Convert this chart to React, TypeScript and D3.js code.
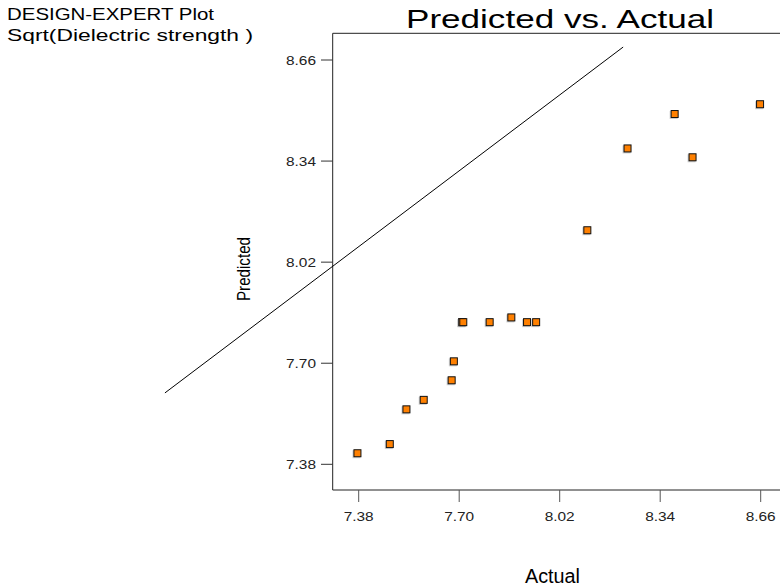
import React from "react";
import * as d3 from "d3";

// Actual vs. predicted values of Sqrt(Dielectric strength)
const actual = [7.376, 7.479, 7.532, 7.587, 7.676, 7.683, 7.709, 7.713, 7.797, 7.866, 7.916, 7.945, 8.108, 8.236, 8.386, 8.443, 8.658];
const predicted = [7.415, 7.444, 7.554, 7.584, 7.646, 7.706, 7.830, 7.830, 7.830, 7.845, 7.830, 7.830, 8.121, 8.380, 8.489, 8.352, 8.520];

const tickValues = [7.38, 7.70, 8.02, 8.34, 8.66];

// Reference line endpoints (actual, predicted)
const refLineX = [6.763, 8.222];
const refLineY = [7.606, 8.701];

const W = 780;
const H = 588;
const plotLeft = 332.7;
const plotTop = 33.3;
const plotBottom = 490;
const plotRight = 780;

const FONT = "'Liberation Sans', Arial, sans-serif";

export default function App() {
  const x = d3.scaleLinear().domain([7.38, 8.66]).range([358.7, 760.7]);
  const y = d3.scaleLinear().domain([7.38, 8.66]).range([464.3, 60]);

  const pts = actual.map((a, i) => ({ a, p: predicted[i] }));
  const line = d3
    .line<number>()
    .x((_, i) => x(refLineX[i]))
    .y((_, i) => y(refLineY[i]));

  const ms = 8;

  return (
    <svg
      width={W}
      height={H}
      style={{ position: "absolute", left: 0, top: 0, background: "#fff" }}
      fontFamily={FONT}
    >
      {/* header */}
      <text x={7} y={20} fontSize={16.5} textLength={207} lengthAdjust="spacingAndGlyphs" fill="#000">
        DESIGN-EXPERT Plot
      </text>
      <text x={7} y={41} fontSize={16.5} textLength={246} lengthAdjust="spacingAndGlyphs" fill="#000">
        Sqrt(Dielectric strength )
      </text>
      <text x={406} y={28} fontSize={25} textLength={308} lengthAdjust="spacingAndGlyphs" fill="#000">
        Predicted vs. Actual
      </text>

      {/* frame */}
      <line x1={plotLeft} y1={plotTop} x2={plotRight} y2={plotTop} stroke="#222" strokeWidth={1} />
      <line x1={plotLeft} y1={plotTop} x2={plotLeft} y2={plotBottom} stroke="#222" strokeWidth={1} />
      <line x1={plotLeft} y1={plotBottom} x2={plotRight} y2={plotBottom} stroke="#222" strokeWidth={1} />

      {/* y ticks */}
      {tickValues.map((t) => (
        <g key={"y" + t}>
          <line x1={321} x2={plotLeft} y1={y(t)} y2={y(t)} stroke="#333" />
          <text
            x={316}
            y={y(t) + 5}
            fontSize={13.5}
            textAnchor="end"
            textLength={30}
            lengthAdjust="spacingAndGlyphs"
            fill="#222"
          >
            {t.toFixed(2)}
          </text>
        </g>
      ))}

      {/* x ticks */}
      {tickValues.map((t) => (
        <g key={"x" + t}>
          <line x1={x(t)} x2={x(t)} y1={plotBottom} y2={502} stroke="#555" />
          <text
            x={x(t) - 15}
            y={521}
            fontSize={13.5}
            textLength={30}
            lengthAdjust="spacingAndGlyphs"
            fill="#222"
          >
            {t.toFixed(2)}
          </text>
        </g>
      ))}

      {/* axis titles */}
      <text
        transform={`translate(250, 301) rotate(-90)`}
        fontSize={19}
        textLength={64}
        lengthAdjust="spacingAndGlyphs"
        fill="#000"
      >
        Predicted
      </text>
      <text x={525} y={583} fontSize={20} textLength={55} lengthAdjust="spacingAndGlyphs" fill="#000">
        Actual
      </text>

      {/* reference line */}
      <path d={line([0, 1]) ?? ""} fill="none" stroke="#000" strokeWidth={1} />

      {/* points */}
      {pts.map((d, i) => (
        <g key={i}>
          <rect
            x={x(d.a) - ms / 2 - 1}
            y={y(d.p) - ms / 2 + 1}
            width={ms}
            height={ms}
            fill="#999"
            opacity={0.45}
          />
          <rect
            x={x(d.a) - ms / 2 + 0.5}
            y={y(d.p) - ms / 2 + 0.5}
            width={ms - 1}
            height={ms - 1}
            fill="#FF8000"
            stroke="#111"
            strokeWidth={1}
          />
        </g>
      ))}
    </svg>
  );
}
